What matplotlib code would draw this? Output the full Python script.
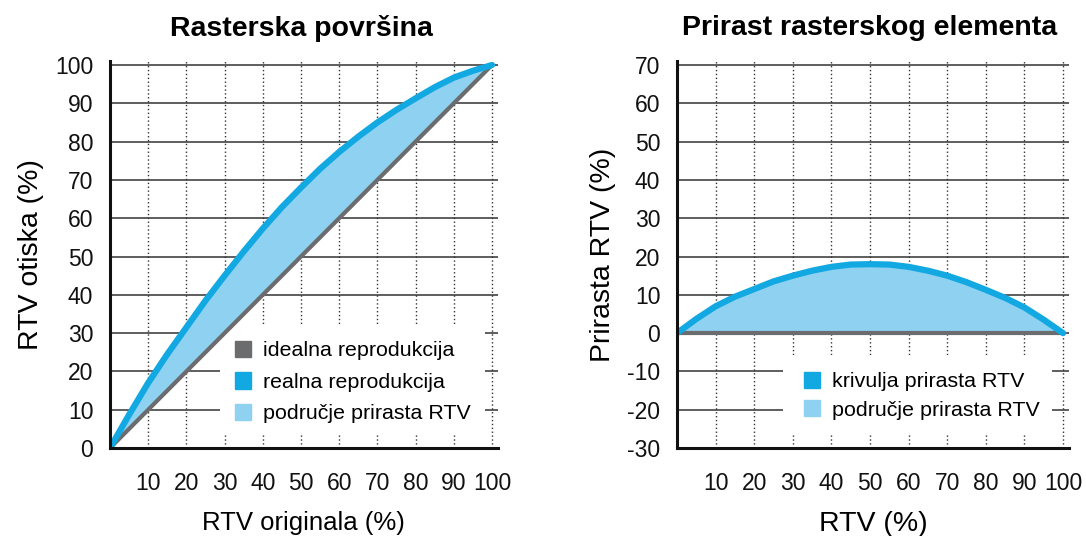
import matplotlib

matplotlib.use("Agg")
import matplotlib.pyplot as plt
from matplotlib.patches import Patch, Rectangle


plt.rcParams["font.family"] = ["Liberation Sans", "DejaVu Sans"]
plt.rcParams["axes.unicode_minus"] = False

# RTV of the original, percent
rtv = [0, 5, 10, 15, 20, 25, 30, 35, 40, 45, 50, 55, 60, 65, 70, 75, 80, 85, 90, 95, 100]
# dot gain measured at each RTV step, percent
gain = [0, 3.7, 7.0, 9.5, 11.5, 13.5, 15.0, 16.3, 17.3, 17.9, 18.0,
        17.9, 17.3, 16.3, 15.0, 13.3, 11.3, 9.2, 6.7, 3.5, 0]
# printed RTV = original RTV + dot gain
printed = [r + g for r, g in zip(rtv, gain)]

left_yticks = [0, 10, 20, 30, 40, 50, 60, 70, 80, 90, 100]
right_yticks = [-30, -20, -10, 0, 10, 20, 30, 40, 50, 60, 70]
xticks = [10, 20, 30, 40, 50, 60, 70, 80, 90, 100]

BLUE = "#12a8e2"
LIGHT = "#8fd1f1"
GRAY = "#6b6c6e"
GRID = "#333333"
W, H = 1086, 536


def px_axes(fig, x0, x1, y_top, y_bot):
    return fig.add_axes([x0 / W, (H - y_bot) / H, (x1 - x0) / W, (y_bot - y_top) / H])


def style_axes(ax, yticks, ylim):
    ax.set_xlim(0, 101.5)
    ax.set_ylim(*ylim)
    ax.set_axisbelow(True)
    for t in yticks:
        ax.axhline(t, color=GRID, lw=1.1, zorder=0.5)
    for t in xticks:
        ax.axvline(t, color=GRID, lw=1.0, ls=(0, (1.0, 1.8)), zorder=0.5)
    ax.set_xticks(xticks)
    ax.set_yticks(yticks)
    ax.tick_params(length=0, labelsize=16.5, colors="#111111")
    ax.tick_params(axis="x", pad=17)
    ax.tick_params(axis="y", pad=12)
    for side in ("top", "right"):
        ax.spines[side].set_visible(False)
    for side in ("left", "bottom"):
        ax.spines[side].set_linewidth(2.2)
        ax.spines[side].set_color("#111111")
        ax.spines[side].set_zorder(4)


fig = plt.figure(figsize=(W / 100, H / 100), dpi=100)

# left panel: ideal vs real reproduction
ax1 = px_axes(fig, 110, 497.7, 61.2, 448)
style_axes(ax1, left_yticks, (0, 101))
ax1.add_patch(Rectangle((0.284, 0.034), 0.683, 0.281, transform=ax1.transAxes,
                        facecolor="white", edgecolor="none", zorder=1))
ax1.fill_between(rtv, rtv, printed, color=LIGHT, lw=0, zorder=2)
ax1.plot(rtv, rtv, color=GRAY, lw=3.0, solid_capstyle="round", zorder=3)
ax1.plot(rtv, printed, color=BLUE, lw=4.5, solid_capstyle="round", zorder=3.5)
ax1.legend(
    handles=[Patch(color=GRAY, label="idealna reprodukcija"),
             Patch(color=BLUE, label="realna reprodukcija"),
             Patch(color=LIGHT, label="područje prirasta RTV")],
    loc="upper left", bbox_to_anchor=(0.322, 0.277), frameon=False, fontsize=15.4,
    handlelength=0.75, handleheight=0.8, handletextpad=0.55, labelspacing=0.55,
    borderpad=0, borderaxespad=0,
)
ax1.set_ylabel("RTV otiska (%)", fontsize=20.5, labelpad=8)
ax1.set_xlabel("RTV originala (%)", fontsize=18.5, labelpad=12)
fig.text(301 / W, 1 - 28 / H, "Rasterska površina", ha="center", va="center",
         fontsize=20.5, fontweight="bold")

# right panel: dot gain curve
ax2 = px_axes(fig, 677, 1068.8, 61.2, 448)
style_axes(ax2, right_yticks, (-30, 71))
ax2.add_patch(Rectangle((0.27, 0.039), 0.687, 0.201, transform=ax2.transAxes,
                        facecolor="white", edgecolor="none", zorder=1))
ax2.fill_between(rtv, 0, gain, color=LIGHT, lw=0, zorder=2)
ax2.plot([rtv[0], rtv[-1]], [0, 0], color=GRAY, lw=3.0, zorder=3)
ax2.plot(rtv, gain, color=BLUE, lw=4.5, solid_capstyle="round", zorder=3.5)
ax2.legend(
    handles=[Patch(color=BLUE, label="krivulja prirasta RTV"),
             Patch(color=LIGHT, label="područje prirasta RTV")],
    loc="upper left", bbox_to_anchor=(0.325, 0.197), frameon=False, fontsize=15.4,
    handlelength=0.75, handleheight=0.8, handletextpad=0.55, labelspacing=0.4,
    borderpad=0, borderaxespad=0,
)
ax2.set_ylabel("Prirasta RTV (%)", fontsize=20.5, labelpad=8)
ax2.set_xlabel("RTV (%)", fontsize=20.5, labelpad=12)
fig.text(870 / W, 1 - 28 / H, "Prirast rasterskog elementa", ha="center", va="center",
         fontsize=20.5, fontweight="bold")

fig.savefig("out.png", dpi=100)
